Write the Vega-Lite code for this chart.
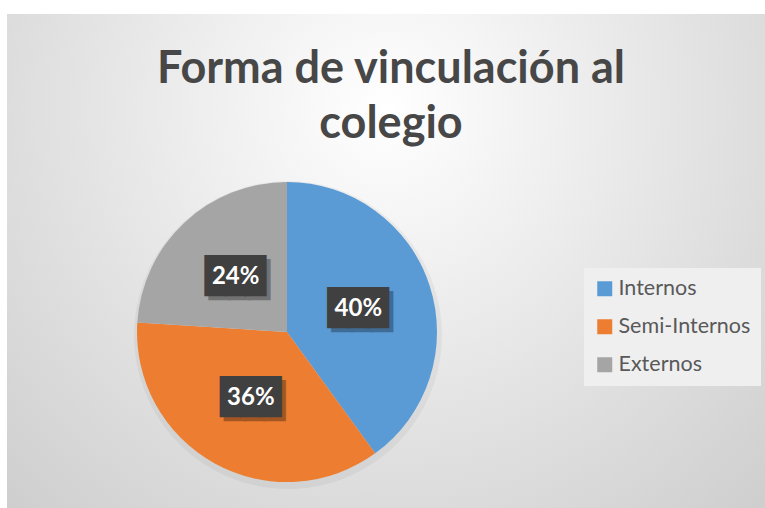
{
  "$schema": "https://vega.github.io/schema/vega-lite/v6.json",
  "width": 765,
  "height": 508,
  "autosize": {"type": "fit", "contains": "padding"},
  "padding": {"left": 7, "top": 14, "right": 0, "bottom": 0},
  "background": "#ffffff",
  "config": {"view": {"stroke": "#d9d9d9", "strokeWidth": 1}, "font": "Lato"},
  "title": {
    "text": ["Forma de vinculación al", "colegio"],
    "font": "Lato",
    "fontSize": 45,
    "fontWeight": "bold",
    "color": "#474747",
    "lineHeight": 55,
    "anchor": "middle",
    "frame": "group",
    "offset": -133,
    "dx": 5
  },
  "datasets": {
    "fondo": [{"k": 1}],
    "vinculacion": [
      {"categoria": "Internos", "valor": 40, "orden": 1, "etiqueta": "40%"},
      {"categoria": "Semi-Internos", "valor": 36, "orden": 2, "etiqueta": "36%"},
      {"categoria": "Externos", "valor": 24, "orden": 3, "etiqueta": "24%"}
    ]
  },
  "layer": [
    {
      "data": {"name": "fondo"},
      "mark": {
        "type": "rect",
        "fill": {
          "gradient": "radial",
          "x1": 0.5, "y1": 0.3, "x2": 0.5, "y2": 0.3, "r1": 0, "r2": 0.85,
          "stops": [
            {"offset": 0, "color": "#ffffff"},
            {"offset": 0.5, "color": "#e2e2e2"},
            {"offset": 1, "color": "#c6c6c6"}
          ]
        }
      },
      "encoding": {}
    },
    {
      "data": {"name": "vinculacion"},
      "mark": {"type": "arc", "radius": 154, "xOffset": -98, "yOffset": 74, "fill": "#000000", "fillOpacity": 0.045},
      "encoding": {
        "theta": {"field": "valor", "type": "quantitative", "stack": true},
        "order": {"field": "orden", "type": "quantitative"}
      }
    },
    {
      "data": {"name": "vinculacion"},
      "mark": {"type": "arc", "radius": 150, "xOffset": -99, "yOffset": 71},
      "encoding": {
        "theta": {"field": "valor", "type": "quantitative", "stack": true},
        "order": {"field": "orden", "type": "quantitative"},
        "color": {
          "field": "categoria",
          "type": "nominal",
          "scale": {"domain": ["Internos", "Semi-Internos", "Externos"], "range": ["#5b9bd5", "#ed7d31", "#a5a5a5"]},
          "legend": {
            "orient": "none",
            "direction": "vertical",
            "legendX": 577,
            "legendY": 254,
            "title": null,
            "symbolType": "square",
            "symbolSize": 225,
            "symbolStrokeWidth": 0,
            "labelFontSize": 21.5,
            "labelFont": "Lato",
            "labelColor": "#595959",
            "labelOffset": 3,
            "rowPadding": 15,
            "fillColor": "#efefef",
            "padding": 10
          }
        }
      }
    },
    {
      "data": {"name": "vinculacion"},
      "mark": {"type": "text", "radius": 75, "xOffset": -95, "yOffset": 75, "font": "DejaVu Sans Mono", "fontSize": 33, "fill": "#000000", "stroke": "#000000", "strokeWidth": 2, "opacity": 0.3, "baseline": "middle"},
      "encoding": {
        "theta": {"field": "valor", "type": "quantitative", "stack": true},
        "order": {"field": "orden", "type": "quantitative"},
        "text": {"value": "███"}
      }
    },
    {
      "data": {"name": "vinculacion"},
      "mark": {"type": "text", "radius": 75, "xOffset": -99, "yOffset": 71, "font": "DejaVu Sans Mono", "fontSize": 33, "fill": "#404040", "stroke": "#404040", "strokeWidth": 2, "baseline": "middle"},
      "encoding": {
        "theta": {"field": "valor", "type": "quantitative", "stack": true},
        "order": {"field": "orden", "type": "quantitative"},
        "text": {"value": "███"}
      }
    },
    {
      "data": {"name": "vinculacion"},
      "mark": {"type": "text", "radius": 75, "xOffset": -99, "yOffset": 71, "font": "Lato", "fontSize": 24, "fontWeight": "bold", "fill": "#ffffff", "baseline": "middle"},
      "encoding": {
        "theta": {"field": "valor", "type": "quantitative", "stack": true},
        "order": {"field": "orden", "type": "quantitative"},
        "text": {"field": "etiqueta", "type": "nominal"}
      }
    }
  ]
}
